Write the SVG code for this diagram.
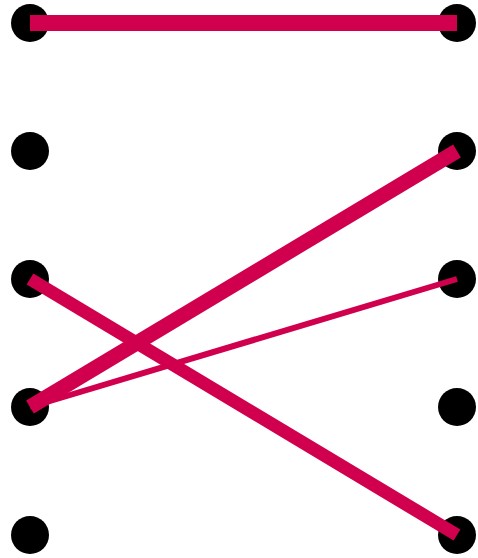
<svg xmlns="http://www.w3.org/2000/svg" width="478" height="558" viewBox="0 0 478 558">
<style>
.n{fill:#000}
.e{stroke:#D1004E;fill:none;stroke-linecap:butt}
</style>
<rect width="478" height="558" fill="#fff"/>
<g id="nodes">
<g id="L1"><circle class="n" cx="30" cy="23" r="19"/></g>
<g id="L2"><circle class="n" cx="30" cy="151" r="19"/></g>
<g id="L3"><circle class="n" cx="30" cy="279" r="19"/></g>
<g id="L4"><circle class="n" cx="30" cy="407" r="19"/></g>
<g id="L5"><circle class="n" cx="30" cy="535" r="19"/></g>
<g id="R1"><circle class="n" cx="457" cy="23" r="19"/></g>
<g id="R2"><circle class="n" cx="457" cy="151" r="19"/></g>
<g id="R3"><circle class="n" cx="457" cy="279" r="19"/></g>
<g id="R4"><circle class="n" cx="457" cy="407" r="19"/></g>
<g id="R5"><circle class="n" cx="457" cy="535" r="19"/></g>
</g>
<g id="connectors">
<line class="e" x1="30" y1="23" x2="457" y2="23" stroke-width="16"/>
<line class="e" x1="30" y1="407" x2="457" y2="151" stroke-width="15"/>
<line class="e" x1="30" y1="279" x2="457" y2="535" stroke-width="13"/>
<line class="e" x1="30" y1="407" x2="457" y2="279" stroke-width="6"/>
</g>
</svg>
